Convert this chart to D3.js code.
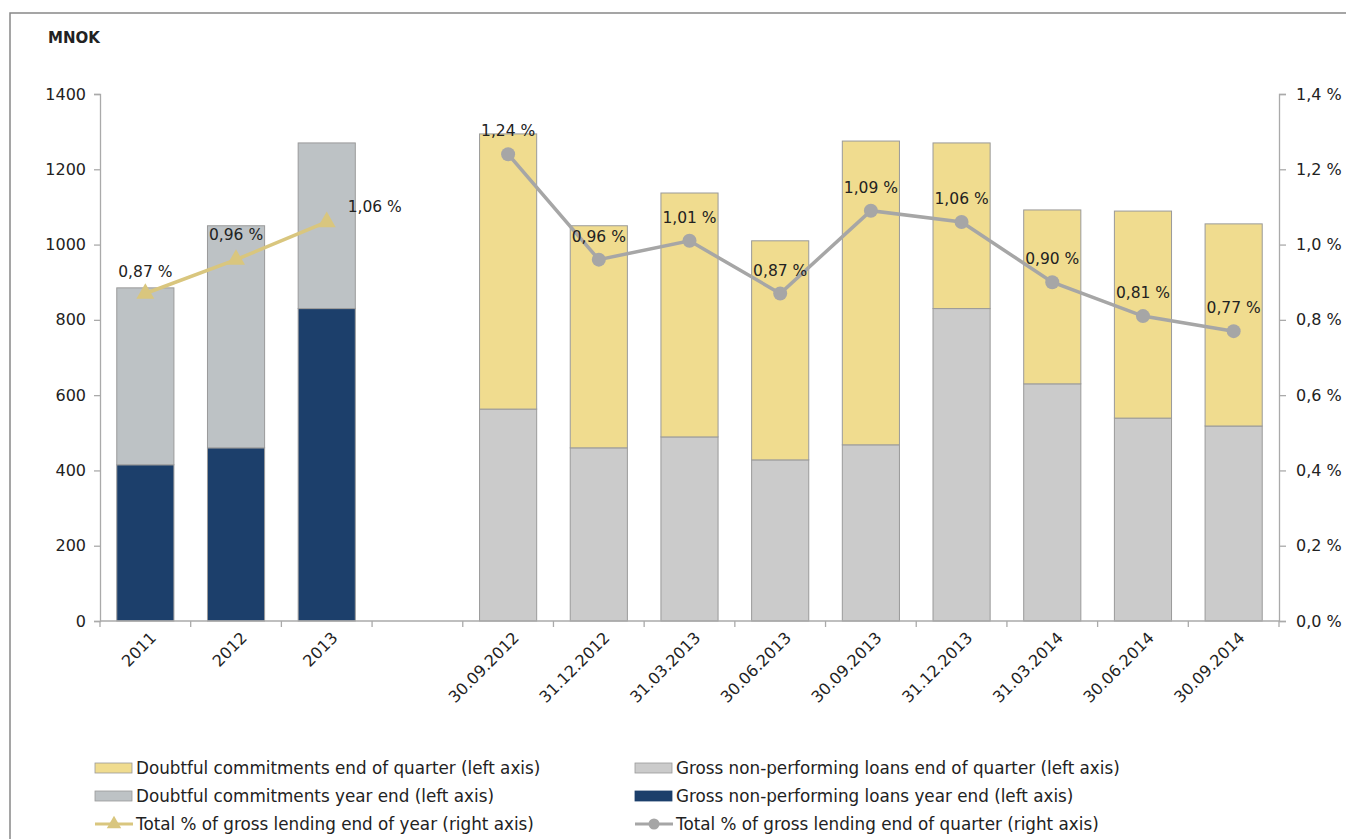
<!DOCTYPE html>
<html><head><meta charset="utf-8">
<script src="https://cdn.jsdelivr.net/npm/d3@7"></script>
<style>body{margin:0;background:#fff;} svg{display:block;} text{font-family:"DejaVu Sans",sans-serif;fill:#222;}</style>
</head><body>
<svg id="c" width="1346" height="839"></svg>
<script>
const categories = ["2011","2012","2013","","30.09.2012","31.12.2012","31.03.2013","30.06.2013","30.09.2013","31.12.2013","31.03.2014","30.06.2014","30.09.2014"];
const yearCats = ["2011","2012","2013"];
const quarterCats = ["30.09.2012","31.12.2012","31.03.2013","30.06.2013","30.09.2013","31.12.2013","31.03.2014","30.06.2014","30.09.2014"];
const yearNPL = [415, 460, 830];
const yearDoubtful = [470, 590, 440];
const quarterNPL = [563, 460, 489, 428, 468, 830, 630, 539, 518];
const quarterDoubtful = [731, 590, 648, 582, 807, 440, 462, 550, 537];
const yearPct = [0.87, 0.96, 1.06];
const quarterPct = [1.24, 0.96, 1.01, 0.87, 1.09, 1.06, 0.90, 0.81, 0.77];
const leftTicks = [0,200,400,600,800,1000,1200,1400];
const rightTicks = [0,0.2,0.4,0.6,0.8,1.0,1.2,1.4];

const C = {yellow:"#F0DC8F", qgray:"#CBCBCB", ygray:"#BDC2C5", navy:"#1C3F6B", gold:"#D9C67E", line:"#A6A6A6", stroke:"#9a9a9a"};
const svg = d3.select("#c");
svg.append("rect").attr("x",10).attr("y",13).attr("width",1346).attr("height",840).attr("fill","none").attr("stroke","#888").attr("stroke-width",1.5);
svg.append("text").attr("x",48).attr("y",43).attr("font-weight","bold").attr("font-size",15).attr("font-family","DejaVu Sans").text("MNOK");

const L = 100, R = 1279, T = 94, B = 621;
const x = d3.scaleBand().domain(categories).range([L,R]).paddingInner(0.37).paddingOuter(0.185);
const y = d3.scaleLinear().domain([0,1400]).range([B,T]);
const y2 = d3.scaleLinear().domain([0,1.4]).range([B,T]);
const xc = d => x(d) + x.bandwidth()/2;
const fmt = v => d3.format(".2f")(v).replace(".", ",") + " %";

const ga = svg.append("g").attr("transform",`translate(${L},0)`)
  .call(d3.axisLeft(y).tickValues(leftTicks).tickSize(6).tickPadding(8).tickFormat(d3.format("d")));
const gb = svg.append("g").attr("transform",`translate(${R},0)`)
  .call(d3.axisRight(y2).tickValues(rightTicks).tickSize(7).tickPadding(10).tickFormat(d => d3.format(".1f")(d).replace(".", ",") + " %"));
[ga,gb].forEach(g=>{g.select(".domain").attr("stroke","#aaa").attr("stroke-width",1.3);
  g.selectAll(".tick line").attr("stroke","#aaa").attr("stroke-width",1.3);
  g.selectAll(".tick text").attr("font-size",16).attr("fill","#222").attr("font-family","DejaVu Sans");});

function stack(cats, lower, upper, cl, cu){
  const g = svg.append("g");
  cats.forEach((c,i)=>{
    g.append("rect").attr("x",x(c)).attr("width",x.bandwidth()).attr("y",y(lower[i])).attr("height",y(0)-y(lower[i]))
      .attr("fill",cl).attr("stroke",C.stroke).attr("stroke-width",1);
    g.append("rect").attr("x",x(c)).attr("width",x.bandwidth()).attr("y",y(lower[i]+upper[i])).attr("height",y(lower[i])-y(lower[i]+upper[i]))
      .attr("fill",cu).attr("stroke",C.stroke).attr("stroke-width",1);
  });
}
stack(yearCats, yearNPL, yearDoubtful, C.navy, C.ygray);
stack(quarterCats, quarterNPL, quarterDoubtful, C.qgray, C.yellow);

const step = x.step();
const gx = svg.append("g");
gx.append("line").attr("x1",L).attr("x2",R).attr("y1",B).attr("y2",B).attr("stroke","#aaa").attr("stroke-width",1.3);
d3.range(categories.length+1).forEach(i=>{
  const px = L + i*step;
  gx.append("line").attr("x1",px).attr("x2",px).attr("y1",B).attr("y2",B+6).attr("stroke","#aaa").attr("stroke-width",1.3);
});
categories.forEach(c=>{ if(!c) return;
  gx.append("text").attr("transform",`translate(${xc(c)+4},${B+10}) rotate(-45)`).attr("text-anchor","end")
    .attr("dy","0.7em").attr("font-size",16).text(c);
});

const lineY = d3.line().x((d,i)=>xc(yearCats[i])).y(d=>y2(d));
svg.append("path").datum(yearPct).attr("d",lineY).attr("fill","none").attr("stroke",C.gold).attr("stroke-width",3.5);
const tri = d3.symbol().type(d3.symbolTriangle).size(140);
yearPct.forEach((v,i)=>svg.append("path").attr("d",tri).attr("fill",C.gold).attr("transform",`translate(${xc(yearCats[i])},${y2(v)})`));
const lineQ = d3.line().x((d,i)=>xc(quarterCats[i])).y(d=>y2(d));
svg.append("path").datum(quarterPct).attr("d",lineQ).attr("fill","none").attr("stroke",C.line).attr("stroke-width",3.5);
quarterPct.forEach((v,i)=>svg.append("circle").attr("cx",xc(quarterCats[i])).attr("cy",y2(v)).attr("r",7).attr("fill",C.line));

const yOff = [[0,-17],[0,-20],[48,-10]];
yearPct.forEach((v,i)=>svg.append("text").attr("x",xc(yearCats[i])+yOff[i][0]).attr("y",y2(v)+yOff[i][1]).attr("text-anchor","middle").attr("font-size",15.5).text(fmt(v)));
quarterPct.forEach((v,i)=>svg.append("text").attr("x",xc(quarterCats[i])).attr("y",y2(v)-18).attr("text-anchor","middle").attr("font-size",15.5).text(fmt(v)));

const legend = [
  {t:"Doubtful commitments end of quarter (left axis)", type:"rect", c:C.yellow, x:95, y:768},
  {t:"Gross non-performing loans end of quarter (left axis)", type:"rect", c:C.qgray, x:635, y:768},
  {t:"Doubtful commitments year end (left axis)", type:"rect", c:C.ygray, x:95, y:796},
  {t:"Gross non-performing loans year end (left axis)", type:"rect", c:C.navy, x:635, y:796},
  {t:"Total % of gross lending end of year (right axis)", type:"tri", c:C.gold, x:95, y:824},
  {t:"Total % of gross lending end of quarter (right axis)", type:"circ", c:C.line, x:635, y:824}
];
legend.forEach(l=>{
  const g = svg.append("g").attr("transform",`translate(${l.x},${l.y})`);
  if(l.type==="rect") g.append("rect").attr("x",0).attr("y",-5).attr("width",37).attr("height",10).attr("fill",l.c).attr("stroke",l.c===C.navy?C.navy:"#999").attr("stroke-width",0.8);
  else {
    g.append("line").attr("x1",0).attr("x2",38).attr("y1",0).attr("y2",0).attr("stroke",l.c).attr("stroke-width",3);
    if(l.type==="tri") g.append("path").attr("d",d3.symbol().type(d3.symbolTriangle).size(90)).attr("fill",l.c).attr("transform","translate(19,0)");
    else g.append("circle").attr("cx",19).attr("cy",0).attr("r",5.5).attr("fill",l.c);
  }
  g.append("text").attr("x",41).attr("y",0).attr("dy","0.35em").attr("font-size",16.8).text(l.t);
});
</script>
</body></html>
